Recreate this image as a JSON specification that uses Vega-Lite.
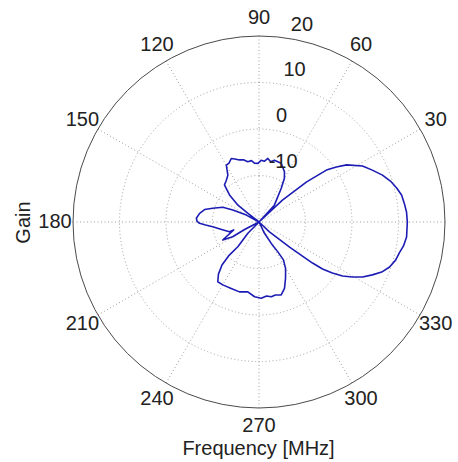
{
  "$schema": "https://vega.github.io/schema/vega-lite/v6.json",
  "width": 372,
  "height": 372,
  "autosize": {"type": "none"},
  "padding": {"left": 73, "top": 36, "right": 13, "bottom": 54},
  "background": "white",
  "config": {"view": {"stroke": null}},
  "datasets": {
    "spokes": [{"a": 0}, {"a": 30}, {"a": 60}, {"a": 90}, {"a": 120}, {"a": 150}],
    "rings": [{"g": -10}, {"g": 0}, {"g": 10}],
    "outer": [{"g": 20}],
    "angleLabels": [
      {"a": 0, "t": "0"}, {"a": 30, "t": "30"}, {"a": 60, "t": "60"}, {"a": 90, "t": "90"},
      {"a": 120, "t": "120"}, {"a": 150, "t": "150"}, {"a": 180, "t": "180"}, {"a": 210, "t": "210"},
      {"a": 240, "t": "240"}, {"a": 270, "t": "270"}, {"a": 300, "t": "300"}, {"a": 330, "t": "330"}
    ],
    "radialLabels": [{"g": -10, "t": "-10"}, {"g": 0, "t": "0"}, {"g": 10, "t": "10"}, {"g": 20, "t": "20"}],
    "pattern": [
      {"i": 1, "a": 315, "g": -20},
      {"i": 2, "a": 316.4, "g": -16.9},
      {"i": 3, "a": 320.7, "g": -11.5},
      {"i": 4, "a": 322.5, "g": -5.5},
      {"i": 5, "a": 323.5, "g": -3.0},
      {"i": 6, "a": 325.2, "g": -0.8},
      {"i": 7, "a": 327.1, "g": 1.4},
      {"i": 8, "a": 329.5, "g": 3.3},
      {"i": 9, "a": 332, "g": 5.2},
      {"i": 10, "a": 335, "g": 6.9},
      {"i": 11, "a": 337.8, "g": 8.5},
      {"i": 12, "a": 341, "g": 9.7},
      {"i": 13, "a": 344.4, "g": 10.5},
      {"i": 14, "a": 347.6, "g": 10.9},
      {"i": 15, "a": 350.6, "g": 11.5},
      {"i": 16, "a": 354.2, "g": 11.9},
      {"i": 17, "a": 0, "g": 11.9},
      {"i": 18, "a": 3.9, "g": 11.8},
      {"i": 19, "a": 7.4, "g": 11.5},
      {"i": 20, "a": 10.7, "g": 11.2},
      {"i": 21, "a": 13.9, "g": 10.5},
      {"i": 22, "a": 17.3, "g": 9.6},
      {"i": 23, "a": 20.8, "g": 8.4},
      {"i": 24, "a": 24.6, "g": 6.8},
      {"i": 25, "a": 28.4, "g": 5.3},
      {"i": 26, "a": 33.1, "g": 2.5},
      {"i": 27, "a": 35.4, "g": 0.4},
      {"i": 28, "a": 37.6, "g": -1.7},
      {"i": 29, "a": 40.1, "g": -6.6},
      {"i": 30, "a": 43.1, "g": -13.1},
      {"i": 31, "a": 45, "g": -20},
      {"i": 32, "a": 47.6, "g": -15.1},
      {"i": 33, "a": 56.6, "g": -11.3},
      {"i": 34, "a": 59.9, "g": -9.1},
      {"i": 35, "a": 63.1, "g": -7.9},
      {"i": 36, "a": 69.3, "g": -6.5},
      {"i": 37, "a": 76, "g": -6.3},
      {"i": 38, "a": 79, "g": -6.8},
      {"i": 39, "a": 82.1, "g": -6.2},
      {"i": 40, "a": 85, "g": -6.9},
      {"i": 41, "a": 88, "g": -6.7},
      {"i": 42, "a": 91, "g": -7.4},
      {"i": 43, "a": 94.4, "g": -7.3},
      {"i": 44, "a": 97, "g": -6.7},
      {"i": 45, "a": 100.5, "g": -6.8},
      {"i": 46, "a": 104, "g": -6.2},
      {"i": 47, "a": 107.5, "g": -6.0},
      {"i": 48, "a": 111, "g": -5.5},
      {"i": 49, "a": 113.6, "g": -5.1},
      {"i": 50, "a": 117, "g": -5.8},
      {"i": 51, "a": 119.9, "g": -5.9},
      {"i": 52, "a": 123.6, "g": -7.9},
      {"i": 53, "a": 128, "g": -8.6},
      {"i": 54, "a": 133, "g": -9.1},
      {"i": 55, "a": 137.5, "g": -11.4},
      {"i": 56, "a": 141.3, "g": -14.2},
      {"i": 57, "a": 142, "g": -16.9},
      {"i": 58, "a": 145, "g": -20},
      {"i": 59, "a": 151.3, "g": -16.9},
      {"i": 60, "a": 155.4, "g": -13.8},
      {"i": 61, "a": 157.9, "g": -11.6},
      {"i": 62, "a": 163.5, "g": -9.6},
      {"i": 63, "a": 167.1, "g": -8.0},
      {"i": 64, "a": 171.7, "g": -7.1},
      {"i": 65, "a": 176.6, "g": -6.5},
      {"i": 66, "a": 179.5, "g": -6.7},
      {"i": 67, "a": 181.3, "g": -7.2},
      {"i": 68, "a": 183.2, "g": -8.5},
      {"i": 69, "a": 185.8, "g": -10.0},
      {"i": 70, "a": 191.3, "g": -11.8},
      {"i": 71, "a": 198.2, "g": -13.3},
      {"i": 72, "a": 197.4, "g": -14.3},
      {"i": 73, "a": 206.4, "g": -11.3},
      {"i": 74, "a": 209.3, "g": -13.5},
      {"i": 75, "a": 207.4, "g": -16.5},
      {"i": 76, "a": 212, "g": -20},
      {"i": 77, "a": 225.3, "g": -16.6},
      {"i": 78, "a": 229.4, "g": -13.0},
      {"i": 79, "a": 228.1, "g": -10.2},
      {"i": 80, "a": 229.3, "g": -7.8},
      {"i": 81, "a": 232.1, "g": -5.8},
      {"i": 82, "a": 235.4, "g": -4.4},
      {"i": 83, "a": 240.1, "g": -4.4},
      {"i": 84, "a": 247.3, "g": -4.5},
      {"i": 85, "a": 254.4, "g": -4.4},
      {"i": 86, "a": 260.9, "g": -4.8},
      {"i": 87, "a": 266.6, "g": -3.9},
      {"i": 88, "a": 271.7, "g": -3.6},
      {"i": 89, "a": 275.8, "g": -4.0},
      {"i": 90, "a": 279.3, "g": -3.7},
      {"i": 91, "a": 282.7, "g": -3.9},
      {"i": 92, "a": 286.9, "g": -3.6},
      {"i": 93, "a": 291, "g": -4.7},
      {"i": 94, "a": 295.2, "g": -6.6},
      {"i": 95, "a": 299.8, "g": -8.5},
      {"i": 96, "a": 302.8, "g": -10.3},
      {"i": 97, "a": 302.3, "g": -12.4},
      {"i": 98, "a": 299.8, "g": -14.7},
      {"i": 99, "a": 296, "g": -17.3},
      {"i": 100, "a": 315, "g": -20}
    ]
  },
  "layer": [
    {
      "data": {"name": "spokes"},
      "transform": [
        {"calculate": "40*cos(datum.a*PI/180)", "as": "x1"},
        {"calculate": "40*sin(datum.a*PI/180)", "as": "y1"},
        {"calculate": "-40*cos(datum.a*PI/180)", "as": "x2"},
        {"calculate": "-40*sin(datum.a*PI/180)", "as": "y2"}
      ],
      "mark": {"type": "rule", "color": "#a0a0a0", "strokeWidth": 1, "strokeDash": [1, 2.5]},
      "encoding": {
        "x": {"field": "x1", "type": "quantitative",
              "scale": {"domain": [-40, 40], "nice": false, "zero": false},
              "axis": {"title": "Frequency [MHz]", "labels": false, "ticks": false, "domain": false, "grid": false,
                       "titleFont": "Liberation Sans", "titleFontSize": 20, "titleFontWeight": "normal", "titleColor": "#222222",
                       "titleX": 185, "titleY": 40, "titleAlign": "center", "titleBaseline": "middle"}},
        "y": {"field": "y1", "type": "quantitative",
              "scale": {"domain": [-40, 40], "nice": false, "zero": false},
              "axis": {"title": "Gain", "labels": false, "ticks": false, "domain": false, "grid": false,
                       "titleFont": "Liberation Sans", "titleFontSize": 20, "titleFontWeight": "normal", "titleColor": "#222222",
                       "titleX": -50, "titleY": 186, "titleAngle": 270, "titleAlign": "center", "titleBaseline": "middle"}},
        "x2": {"field": "x2"},
        "y2": {"field": "y2"}
      }
    },
    {
      "data": {"name": "rings"},
      "mark": {"type": "arc", "theta": 0, "theta2": 6.2832, "fillOpacity": 0, "stroke": "#a0a0a0", "strokeWidth": 1, "strokeDash": [1, 2.5]},
      "encoding": {
        "radius": {"field": "g", "type": "quantitative",
                   "scale": {"type": "linear", "domain": [-20, 20], "range": [0, 186], "zero": false, "nice": false}},
        "radius2": {"datum": -20}
      }
    },
    {
      "data": {"name": "outer"},
      "mark": {"type": "arc", "theta": 0, "theta2": 6.2832, "fillOpacity": 0, "stroke": "#4a4a4a", "strokeWidth": 1},
      "encoding": {
        "radius": {"field": "g", "type": "quantitative",
                   "scale": {"type": "linear", "domain": [-20, 20], "range": [0, 186], "zero": false, "nice": false}},
        "radius2": {"datum": -20}
      }
    },
    {
      "data": {"name": "pattern"},
      "transform": [
        {"calculate": "(datum.g+20)*cos(datum.a*PI/180)", "as": "px"},
        {"calculate": "(datum.g+20)*sin(datum.a*PI/180)", "as": "py"}
      ],
      "mark": {"type": "line", "color": "#1c1cb4", "strokeWidth": 1.6, "strokeJoin": "round"},
      "encoding": {
        "x": {"field": "px", "type": "quantitative"},
        "y": {"field": "py", "type": "quantitative"},
        "order": {"field": "i", "type": "quantitative"}
      }
    },
    {
      "data": {"name": "angleLabels"},
      "mark": {"type": "text", "font": "Liberation Sans", "fontSize": 20, "color": "#222222", "align": "center", "baseline": "middle"},
      "encoding": {
        "theta": {"field": "a", "type": "quantitative",
                  "scale": {"type": "linear", "domain": [0, 360], "range": [1.5708, -4.7124], "zero": false, "nice": false}},
        "radius": {"value": 204},
        "text": {"field": "t"}
      }
    },
    {
      "data": {"name": "radialLabels"},
      "mark": {"type": "text", "font": "Liberation Sans", "fontSize": 20, "color": "#222222", "align": "left", "baseline": "middle", "radiusOffset": 14},
      "encoding": {
        "theta": {"value": 0.16},
        "radius": {"field": "g", "type": "quantitative",
                   "scale": {"type": "linear", "domain": [-20, 20], "range": [0, 186], "zero": false, "nice": false}},
        "text": {"field": "t"}
      }
    }
  ]
}
